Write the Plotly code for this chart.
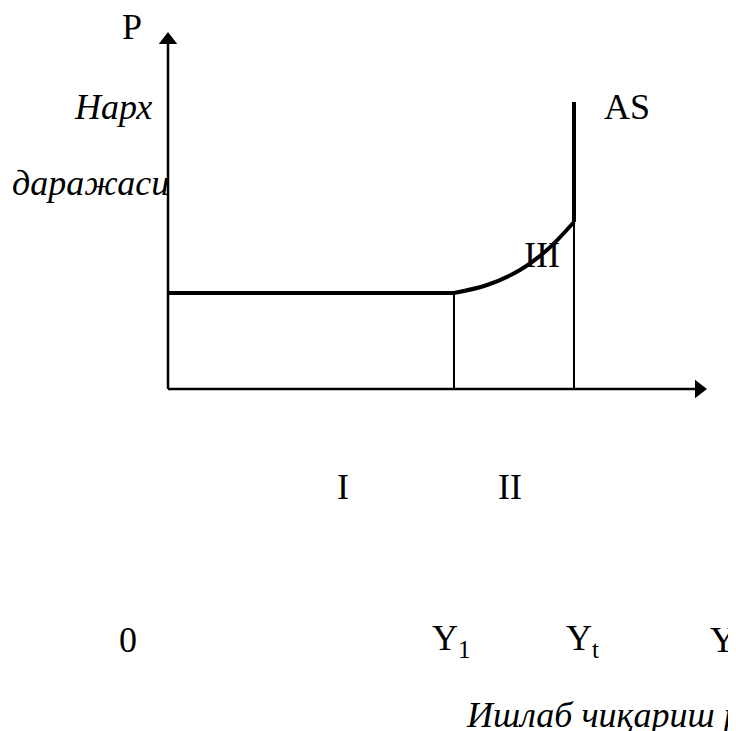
import plotly.graph_objects as go

# diagram values, in picture units (origin at the corner of the axes)
x_axis_end = 539
y_axis_end = 357

y1 = 286          # end of the flat (Keynesian) segment
yt = 406          # full-employment output
p_flat = 96       # price level on the flat segment

curve_x = [286, 319, 352, 379, 406]
curve_y = [96, 104, 119, 139, 167]
as_top = 287

serif = "Liberation Serif, Times New Roman, serif"
size = 36

fig = go.Figure()

# axes
fig.add_trace(go.Scatter(x=[0, x_axis_end - 6], y=[0, 0], mode='lines',
                         line=dict(color='black', width=2.5), hoverinfo='skip'))
fig.add_trace(go.Scatter(x=[0, 0], y=[0, y_axis_end - 6], mode='lines',
                         line=dict(color='black', width=2.5), hoverinfo='skip'))
fig.add_trace(go.Scatter(x=[x_axis_end - 8], y=[0], mode='markers',
                         marker=dict(symbol='triangle-right', size=16, color='black'),
                         hoverinfo='skip'))
fig.add_trace(go.Scatter(x=[0], y=[y_axis_end - 8], mode='markers',
                         marker=dict(symbol='triangle-up', size=16, color='black'),
                         hoverinfo='skip'))

# thin drop lines
fig.add_trace(go.Scatter(x=[y1, y1], y=[0, p_flat], mode='lines',
                         line=dict(color='black', width=2), hoverinfo='skip'))
fig.add_trace(go.Scatter(x=[yt, yt], y=[0, curve_y[-1]], mode='lines',
                         line=dict(color='black', width=2), hoverinfo='skip'))

# AS curve: flat, rising, vertical
fig.add_trace(go.Scatter(x=[0, y1], y=[p_flat, p_flat], mode='lines',
                         line=dict(color='black', width=4), hoverinfo='skip'))
fig.add_trace(go.Scatter(x=curve_x, y=curve_y, mode='lines',
                         line=dict(color='black', width=4, shape='spline'),
                         hoverinfo='skip'))
fig.add_trace(go.Scatter(x=[yt, yt], y=[curve_y[-1], as_top], mode='lines',
                         line=dict(color='black', width=4), hoverinfo='skip'))

labels = [
    ("P", -36, 362, False, 'center'),
    ("Нарх", -55, 282, True, 'center'),
    ("даражаси", -78, 206, True, 'center'),
    ("AS", 459, 282, False, 'center'),
    ("III", 374, 134, False, 'center'),
    ("I", 175, -98, False, 'center'),
    ("II", 342, -98, False, 'center'),
    ("0", -40, -251, False, 'center'),
    ("Y<sub>1</sub>", 283, -251, False, 'center'),
    ("Y<sub>t</sub>", 414, -251, False, 'center'),
    ("Y", 540, -251, False, 'left'),
    ("Ишлаб чиқариш реал ҳажми", 296, -326, True, 'left'),
]
for text, x, y, italic, anchor in labels:
    if italic:
        text = "<i>" + text + "</i>"
    fig.add_annotation(x=x, y=y, text=text, showarrow=False, xanchor=anchor,
                       font=dict(family=serif, size=size, color='black'))

# page body adds an 8px margin, so the ranges are shifted to compensate
fig.update_layout(
    width=736, height=731,
    margin=dict(l=0, r=0, t=0, b=0),
    paper_bgcolor='white', plot_bgcolor='white',
    showlegend=False,
    xaxis=dict(range=[-160, 576], visible=False, fixedrange=True),
    yaxis=dict(range=[-350, 381], visible=False, fixedrange=True),
)

fig.write_html("out.html")
